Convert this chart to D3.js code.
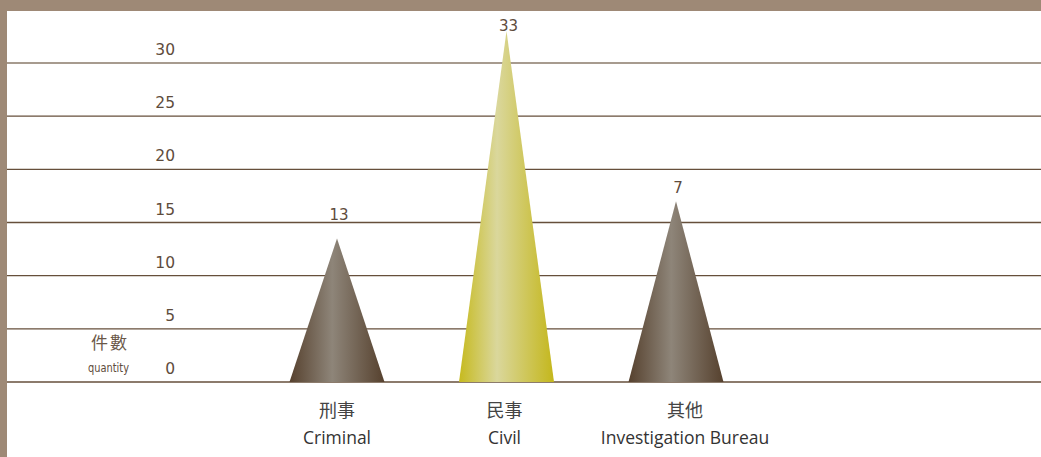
<!DOCTYPE html>
<html><head><meta charset="utf-8">
<script src="https://cdn.jsdelivr.net/npm/d3@7"></script>
<style>
html,body{margin:0;padding:0;background:#fff;}
svg{display:block;}
</style></head>
<body>
<script>
const categoriesZh = ["刑事", "民事", "其他"];
const categoriesEn = ["Criminal", "Civil", "Investigation Bureau"];
const values = [13.5, 33, 17];
const valueLabels = ["13", "33", "7"];
const yTicks = [0, 5, 10, 15, 20, 25, 30];
const palettes = ["brown", "yellow", "brown"];

const W = 1041, H = 457;
const svg = d3.select("body").append("svg").attr("width", W).attr("height", H);

// frame
svg.append("rect").attr("x", 0).attr("y", 0).attr("width", W).attr("height", 11).attr("fill", "#9e8976");
svg.append("rect").attr("x", 0).attr("y", 0).attr("width", 7).attr("height", H).attr("fill", "#9e8976");

const y = d3.scaleLinear().domain([0, 30]).range([382, 63]);
const x = d3.scalePoint().domain(categoriesEn).range([337, 676]);
const halfW = 47.5;

const defs = svg.append("defs");
const gBrown = defs.append("linearGradient").attr("id", "brown").attr("x1", "0%").attr("x2", "100%");
[["0%", "#56412e"], ["45%", "#8e8579"], ["100%", "#56412e"]].forEach(s =>
  gBrown.append("stop").attr("offset", s[0]).attr("stop-color", s[1]));
const gYellow = defs.append("linearGradient").attr("id", "yellow").attr("x1", "0%").attr("x2", "100%");
[["0%", "#c6ba1e"], ["40%", "#dad79c"], ["100%", "#c4b71c"]].forEach(s =>
  gYellow.append("stop").attr("offset", s[0]).attr("stop-color", s[1]));

// gridlines
svg.append("g").selectAll("line").data(yTicks).join("line")
  .attr("x1", 7).attr("x2", W)
  .attr("y1", d => y(d)).attr("y2", d => y(d))
  .attr("stroke", d => d === 30 ? "#8a7a6a" : "#664f3b")
  .attr("stroke-width", 1.4);

// tick labels
svg.append("g").selectAll("text").data(yTicks).join("text")
  .attr("x", 175).attr("y", d => y(d) - 8)
  .attr("text-anchor", "end")
  .attr("font-family", "DejaVu Sans, Verdana, sans-serif")
  .attr("font-size", 15.5)
  .attr("fill", "#5e4c3c")
  .text(d => d);

// axis title
svg.append("text").attr("x", 129).attr("y", 349).attr("text-anchor", "end")
  .attr("font-family", "Noto Sans CJK TC, sans-serif").attr("font-size", 17)
  .attr("letter-spacing", 2)
  .attr("fill", "#6a5848").text("件數");
svg.append("text").attr("x", 88).attr("y", 372)
  .attr("font-family", "DejaVu Sans, Verdana, sans-serif").attr("font-size", 12.5)
  .attr("textLength", 41).attr("lengthAdjust", "spacingAndGlyphs")
  .attr("fill", "#5e4c3c").text("quantity");

// triangles
svg.append("g").selectAll("path").data(values).join("path")
  .attr("d", (v, i) => {
    const cx = x(categoriesEn[i]);
    return `M${cx - halfW},${y(0)}L${cx},${y(v)}L${cx + halfW},${y(0)}Z`;
  })
  .attr("fill", (v, i) => `url(#${palettes[i]})`);

// value labels
const labelOffsets = [18, 0, 8];
svg.append("g").selectAll("text").data(values).join("text")
  .attr("x", (v, i) => x(categoriesEn[i]) + 2)
  .attr("y", (v, i) => Math.max(y(v) - labelOffsets[i], 31))
  .attr("text-anchor", "middle")
  .attr("font-family", "DejaVu Sans, Verdana, sans-serif")
  .attr("font-size", 15)
  .attr("fill", "#5e4c3c")
  .text((v, i) => valueLabels[i]);

// category labels
const catOffsets = [0, -2, 9];
svg.append("g").selectAll("text").data(categoriesZh).join("text")
  .attr("x", (d, i) => x(categoriesEn[i]) + catOffsets[i])
  .attr("y", 417).attr("text-anchor", "middle")
  .attr("font-family", "Noto Sans CJK TC, sans-serif").attr("font-size", 18)
  .attr("fill", "#444").text(d => d);
svg.append("g").selectAll("text").data(categoriesEn).join("text")
  .attr("x", (d, i) => x(d) + catOffsets[i])
  .attr("y", 444).attr("text-anchor", "middle")
  .attr("font-family", "Open Sans, sans-serif").attr("font-size", 17.5)
  .attr("fill", "#333").text(d => d);
</script>
</body></html>
